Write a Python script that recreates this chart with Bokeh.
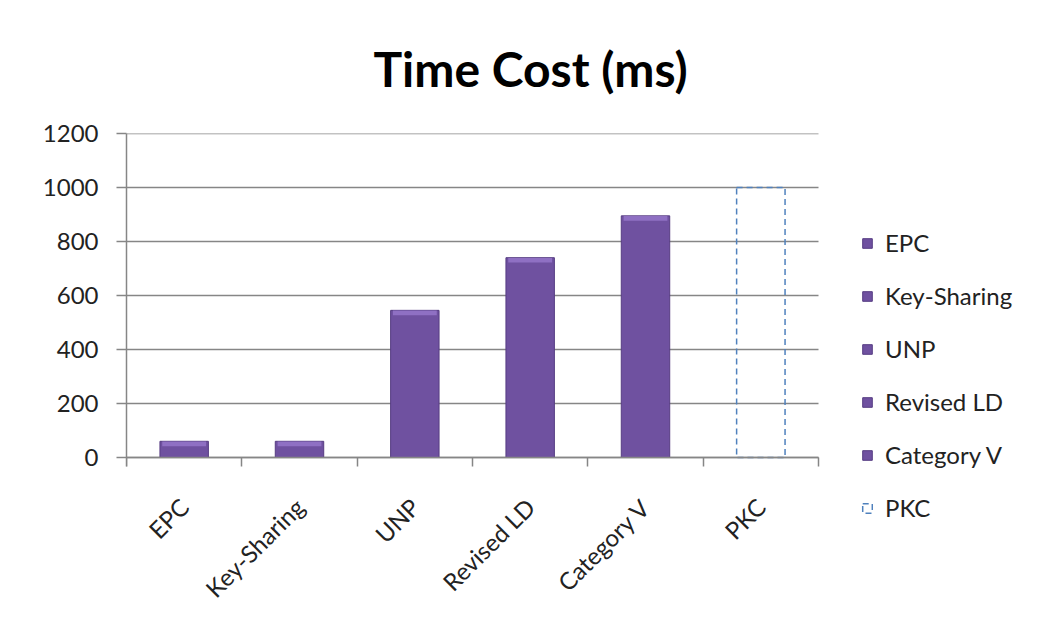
from math import pi
from bokeh.plotting import figure
from bokeh.models import FixedTicker, Legend, LegendItem, Range1d, Title
from bokeh.embed import file_html
from bokeh.resources import INLINE

# ---- data ----
categories = ["EPC", "Key-Sharing", "UNP", "Revised LD", "Category V", "PKC"]
time_cost = [60, 60, 545, 740, 895, 1000]
y_ticks = [0, 200, 400, 600, 800, 1000, 1200]
title_text = "Time Cost (ms)"

FONT = "Lato"
GRID = "#868686"
BAR_FILL = "#6F51A0"
BAR_CAP = "#9575C9"
BAR_LINE = "#563C82"
PKC_LINE = "#4F81BD"
TEXT = "#222222"

# ---- layout (pixels) ----
W, H = 1040, 624
LEFT, TOP, RIGHT = 126, 133, 10
ZERO_Y = 457            # screen y of value 0
FRAME_BOTTOM = 622      # frame extends below the axis to hold labels and legend
PLOT_W = 692            # width of the category area
n = len(categories)
y_max = y_ticks[-1]
px_per_unit = (ZERO_Y - TOP) / y_max
y_start = -(FRAME_BOTTOM - ZERO_Y) / px_per_unit
x_end = n * (W - LEFT - RIGHT) / PLOT_W
CAP = 18   # lighter bevel strip height, data units

p = figure(width=W, height=H, output_backend="svg", toolbar_location=None,
           x_range=Range1d(0, x_end), y_range=Range1d(y_start, y_max),
           min_border_left=LEFT, min_border_top=TOP,
           min_border_bottom=H - FRAME_BOTTOM, min_border_right=RIGHT)
p.outline_line_color = None
p.background_fill_color = "white"
p.border_fill_color = "white"

p.title = Title(text=title_text, align="left", text_font=FONT,
                text_font_size="48px", text_font_style="bold",
                text_color="black", offset=247, standoff=74)

# gridlines over the category area only
p.xgrid.grid_line_color = None
p.ygrid.grid_line_color = None
p.segment(x0=[0] * len(y_ticks), x1=[n] * len(y_ticks), y0=y_ticks, y1=y_ticks,
          line_color=GRID, line_width=1.5)

bar_idx = [i for i, c in enumerate(categories) if c != "PKC"]
pkc_idx = [i for i, c in enumerate(categories) if c == "PKC"]
bar_x = [i + 0.5 for i in bar_idx]
bar_top = [time_cost[i] for i in bar_idx]

r_bar = p.vbar(x=bar_x, top=bar_top, bottom=0, width=0.42,
               fill_color=BAR_FILL, line_color=BAR_LINE, line_width=1)
p.vbar(x=bar_x, top=[t - 1 for t in bar_top], bottom=[t - CAP for t in bar_top],
       width=0.38, fill_color=BAR_CAP, line_color=None, fill_alpha=0.85)
r_pkc = p.vbar(x=[i + 0.5 for i in pkc_idx], top=[time_cost[i] for i in pkc_idx],
               bottom=0, width=0.42, fill_color=None, line_color=PKC_LINE,
               line_width=1.5, line_dash="6 4")

# x axis at value 0: labels at centres, tick marks at category boundaries
xa = p.xaxis[0]
xa.fixed_location = 0
xa.bounds = (0, n)
xa.ticker = FixedTicker(ticks=[i + 0.5 for i in range(n)],
                        minor_ticks=list(range(n + 1)))
xa.major_label_overrides = {i + 0.5: c for i, c in enumerate(categories)}
xa.major_tick_in = 0
xa.major_tick_out = 0
xa.minor_tick_in = 0
xa.minor_tick_out = 9
xa.minor_tick_line_color = GRID
xa.minor_tick_line_width = 1.5
xa.axis_line_color = GRID
xa.axis_line_width = 1.5
xa.major_label_orientation = pi / 4
xa.major_label_text_font = FONT
xa.major_label_text_font_size = "24px"
xa.major_label_text_color = TEXT
xa.major_label_standoff = 36

ya = p.yaxis[0]
ya.bounds = (-9 / px_per_unit, y_max)
ya.ticker = FixedTicker(ticks=y_ticks, minor_ticks=[])
ya.major_tick_in = 0
ya.major_tick_out = 10
ya.major_tick_line_color = GRID
ya.major_tick_line_width = 1.5
ya.axis_line_color = GRID
ya.axis_line_width = 1.5
ya.major_label_text_font = FONT
ya.major_label_text_font_size = "24px"
ya.major_label_text_color = TEXT
ya.major_label_standoff = 18

items = []
for k, i in enumerate(bar_idx):
    items.append(LegendItem(label=categories[i], renderers=[r_bar], index=k))
for i in pkc_idx:
    items.append(LegendItem(label=categories[i], renderers=[r_pkc]))

legend = Legend(items=items, location=(735, FRAME_BOTTOM - 522),
                orientation="vertical",
                margin=0, padding=0, border_line_color=None,
                background_fill_alpha=0, glyph_width=12, glyph_height=12,
                label_height=22, spacing=24, label_standoff=12,
                label_text_font=FONT, label_text_font_size="24px",
                label_text_color=TEXT, label_text_baseline="middle")
p.add_layout(legend, "center")

open("out.html", "w").write(file_html(p, INLINE))
